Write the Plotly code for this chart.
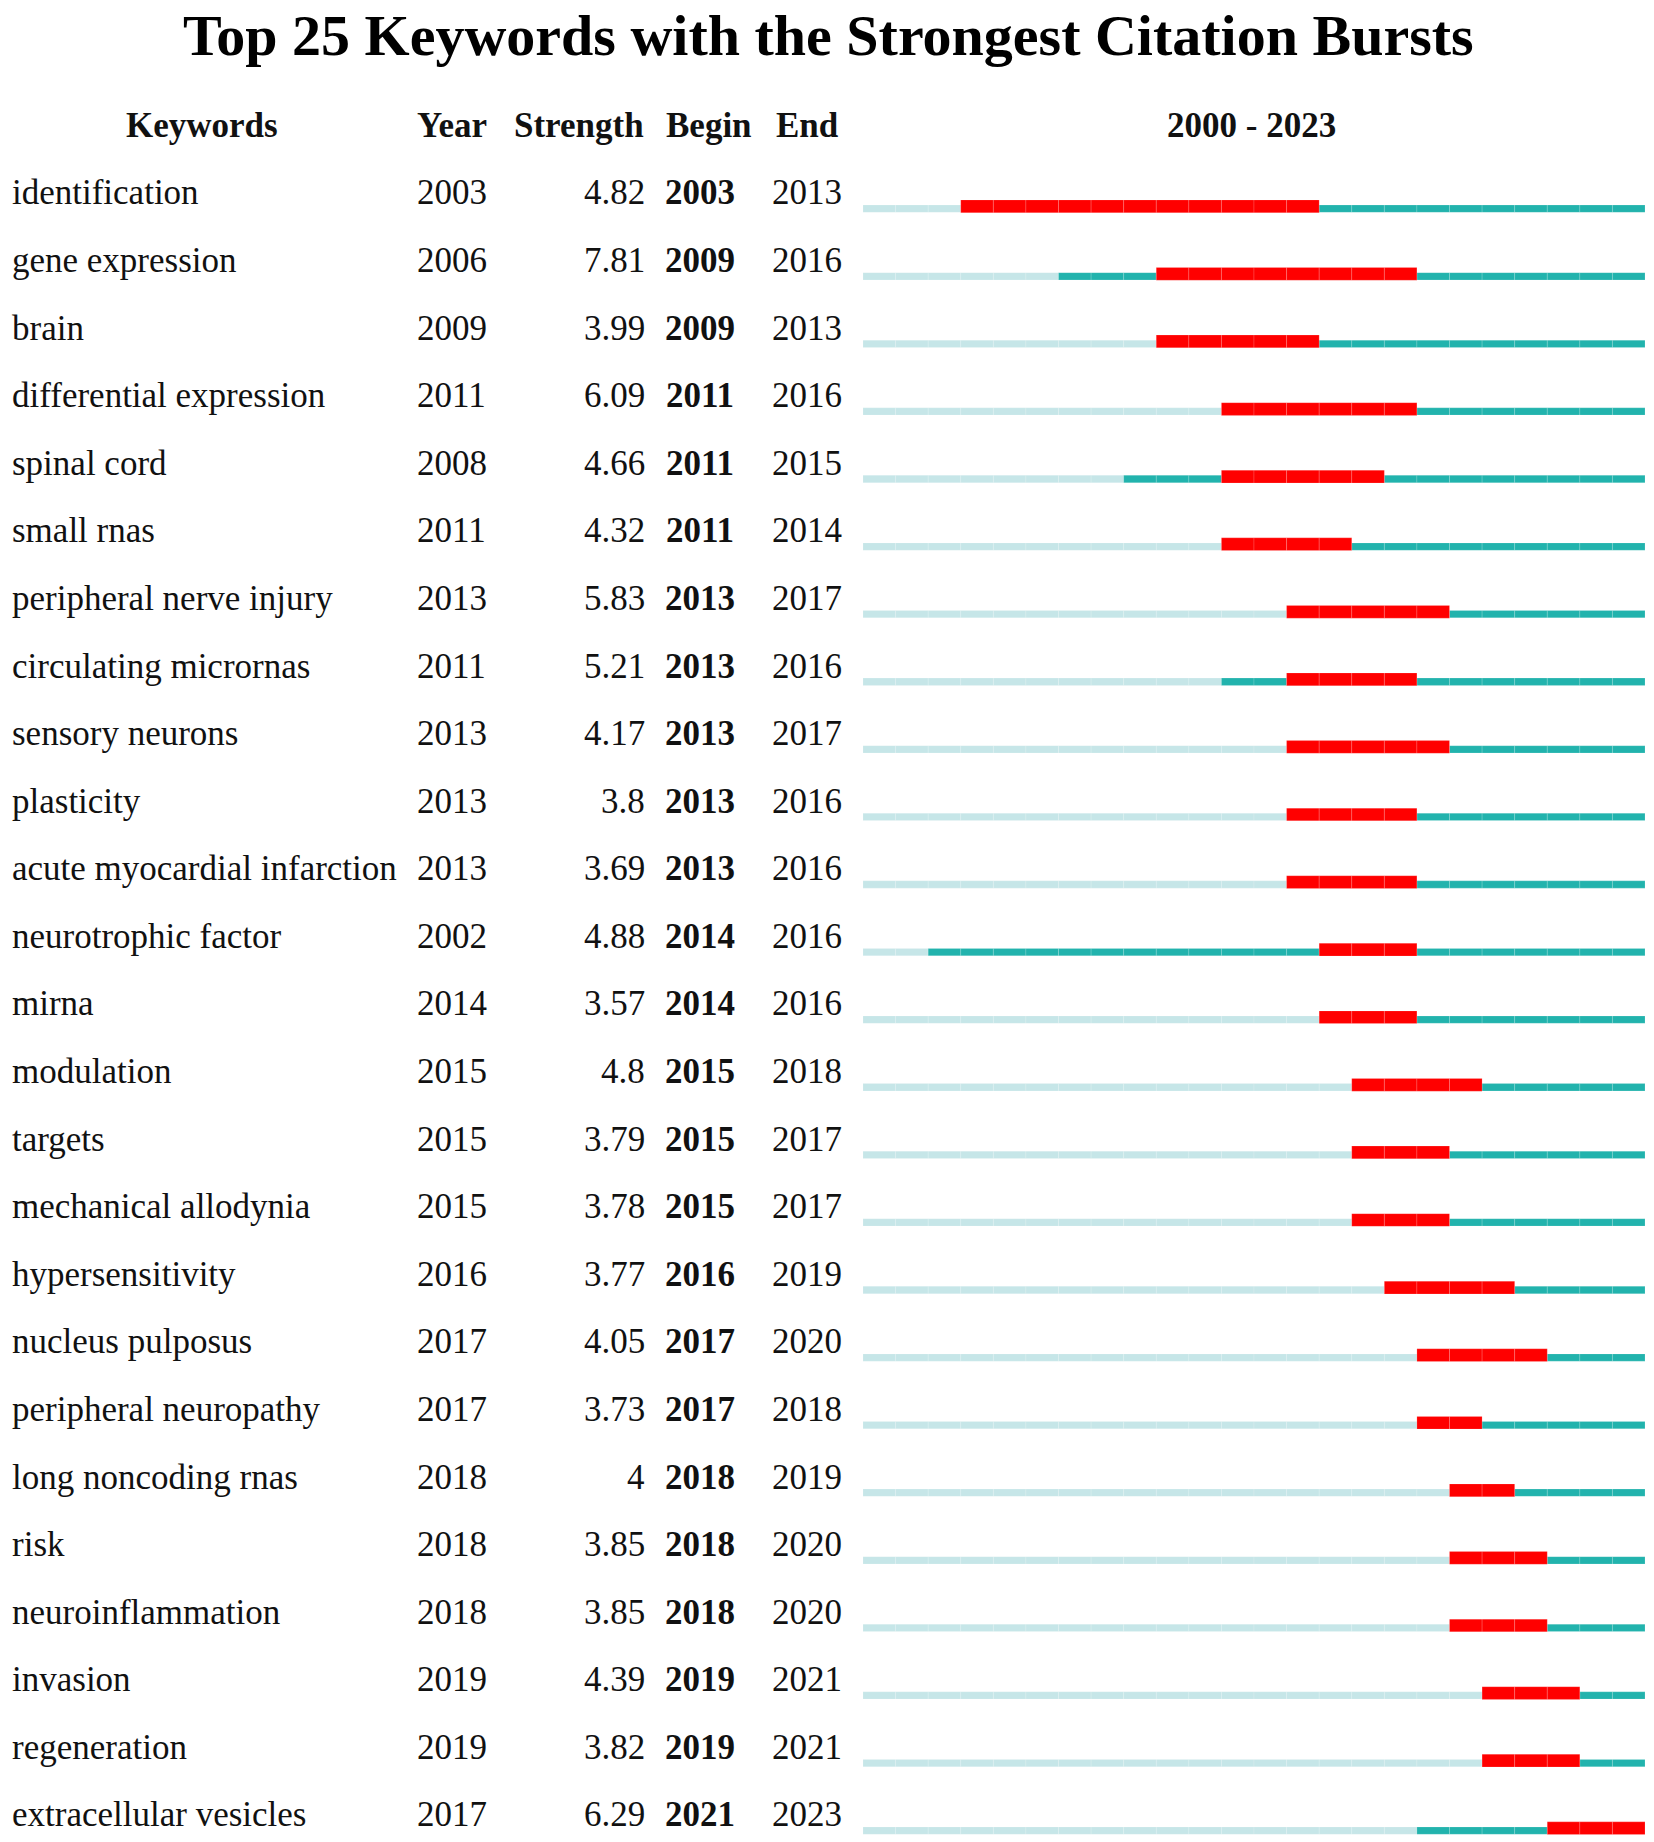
import plotly.graph_objects as go

# ---------------- data ----------------
keywords = [
    "identification", "gene expression", "brain", "differential expression",
    "spinal cord", "small rnas", "peripheral nerve injury", "circulating micrornas",
    "sensory neurons", "plasticity", "acute myocardial infarction", "neurotrophic factor",
    "mirna", "modulation", "targets", "mechanical allodynia", "hypersensitivity",
    "nucleus pulposus", "peripheral neuropathy", "long noncoding rnas", "risk",
    "neuroinflammation", "invasion", "regeneration", "extracellular vesicles",
]
years = [2003, 2006, 2009, 2011, 2008, 2011, 2013, 2011, 2013, 2013, 2013, 2002,
         2014, 2015, 2015, 2015, 2016, 2017, 2017, 2018, 2018, 2018, 2019, 2019, 2017]
strengths = [4.82, 7.81, 3.99, 6.09, 4.66, 4.32, 5.83, 5.21, 4.17, 3.8, 3.69, 4.88,
             3.57, 4.8, 3.79, 3.78, 3.77, 4.05, 3.73, 4, 3.85, 3.85, 4.39, 3.82, 6.29]
begins = [2003, 2009, 2009, 2011, 2011, 2011, 2013, 2013, 2013, 2013, 2013, 2014,
          2014, 2015, 2015, 2015, 2016, 2017, 2017, 2018, 2018, 2018, 2019, 2019, 2021]
ends = [2013, 2016, 2013, 2016, 2015, 2014, 2017, 2016, 2017, 2016, 2016, 2016,
        2016, 2018, 2017, 2017, 2019, 2020, 2018, 2019, 2020, 2020, 2021, 2021, 2023]
start_year, end_year = 2000, 2023
title_text = "Top 25 Keywords with the Strongest Citation Bursts"
headers = ["Keywords", "Year", "Strength", "Begin", "End", f"{start_year} - {end_year}"]

# ---------------- styles ----------------
W, H = 1654, 1842
FONT = "Liberation Serif, Times New Roman, serif"
RED = "#FF0000"
TEAL = "#22B3AD"
LIGHT = "#C6E6E8"

# build cells (one per keyword per year)
cells = {"light": ([], []), "teal": ([], []), "red": ([], [])}
for i in range(len(keywords)):
    for yr in range(start_year, end_year + 1):
        if yr < years[i]:
            k = "light"
        elif begins[i] <= yr <= ends[i]:
            k = "red"
        else:
            k = "teal"
        cells[k][0].append(yr)
        cells[k][1].append(i)

fig = go.Figure()
thin_w = 0.108
thick_w = 0.188
for k, color, width, off in [
    ("light", LIGHT, thin_w, -thin_w / 2 + 0.0355),
    ("teal", TEAL, thin_w, -thin_w / 2 + 0.0355),
    ("red", RED, thick_w, -thick_w / 2),
]:
    xs, ys = cells[k]
    fig.add_trace(go.Bar(
        orientation="h",
        base=xs,
        x=[1] * len(xs),
        y=ys,
        width=width,
        offset=off,
        marker=dict(color=color, line=dict(color="rgba(255,255,255,0.22)", width=0.7)),
        hoverinfo="skip",
        showlegend=False,
    ))

annotations = []
TXT = 35
text_dy = -0.197  # text centre relative to bar centre (row units)
for i in range(len(keywords)):
    yy = i + text_dy
    annotations += [
        dict(x=9.5 / W, y=yy, text=keywords[i], xanchor="left"),
        dict(x=415 / W, y=yy, text=str(years[i]), xanchor="left"),
        dict(x=647 / W, y=yy, text=f"{strengths[i]:g}", xanchor="right"),
        dict(x=699.5 / W, y=yy, text=f"<b>{begins[i]}</b>", xanchor="center"),
        dict(x=807 / W, y=yy, text=str(ends[i]), xanchor="center"),
    ]
hy = -1 + text_dy
for h, xc in zip(headers, [201.5, 452, 578.5, 709, 807.5, 1251.5]):
    annotations.append(dict(x=xc / W, y=hy, text=f"<b>{h}</b>", xanchor="center"))
for a in annotations:
    a.update(xref="paper", yref="y", yanchor="middle", showarrow=False,
             font=dict(family=FONT, size=TXT, color="#111111"))
annotations.append(dict(
    x=829 / W, y=1 - 35 / H, xref="paper", yref="paper", xanchor="center", yanchor="middle",
    text=f"<b>{title_text}</b>", showarrow=False,
    font=dict(family=FONT, size=58, color="#000000"),
))

row_px = 67.58
top_val = -206.3 / row_px
bottom_val = top_val + H / row_px

fig.update_layout(
    width=W, height=H,
    margin=dict(l=0, r=0, t=0, b=0),
    paper_bgcolor="white", plot_bgcolor="white",
    barmode="overlay",
    annotations=annotations,
    xaxis=dict(domain=[863 / W, 1645 / W], range=[start_year, end_year + 1],
               visible=False, showgrid=False, zeroline=False, fixedrange=True),
    yaxis=dict(domain=[0, 1], range=[bottom_val, top_val],
               visible=False, showgrid=False, zeroline=False, fixedrange=True),
)

fig.write_html(
    "out.html",
    config={"displayModeBar": False},
    post_script="document.body.style.margin='0';document.body.style.overflow='hidden';",
)
